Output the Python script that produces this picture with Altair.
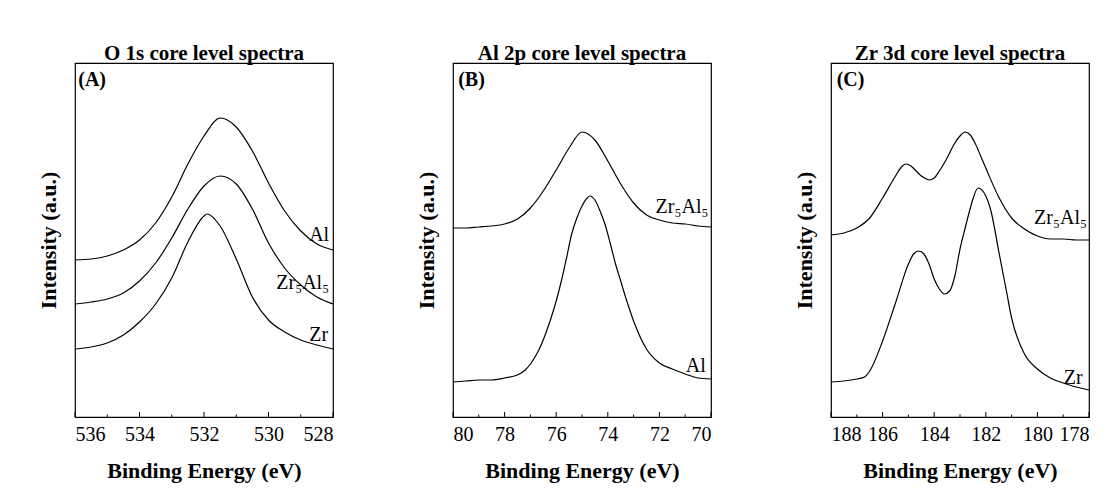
import altair as alt
import pandas as pd

FONT = "Liberation Serif"

# ---------------- Panel A: O 1s ----------------
a_ev = [536, 535.5, 535, 534.5, 534, 533.5, 533, 532.5, 532, 531.5, 531, 530.5, 530, 529.5, 529, 528.5, 528]
a_al = [157, 158, 161, 167, 177, 194, 220, 253, 281, 299, 290, 266, 234, 206, 186, 173, 167]
a_zral = [113, 115, 118, 124, 136, 154, 179, 208, 231, 241, 233, 208, 174, 149, 132, 120, 113]
a_zr_ev = [536, 535.5, 535, 534.5, 534, 533.5, 533, 532.5, 532, 531.9, 531.5, 531, 530.5, 530, 529.5, 529, 528.5, 528]
a_zr = [68, 70, 74, 82, 95, 113, 139, 175, 201, 203, 191, 158, 120, 97, 85, 77, 72, 68]

# ---------------- Panel B: Al 2p ----------------
b_ev = [80, 79.5, 79, 78.5, 78, 77.5, 77, 76.5, 76, 75.5, 75, 74.5, 74, 73.5, 73, 72.5, 72, 71.5, 71, 70.5, 70]
b_zral = [189, 189, 190, 191, 193, 198, 209, 226, 247, 269, 285, 277, 256, 233, 214, 202, 197, 194, 193, 191, 190]
b_al_ev = [80, 79.5, 79, 78.5, 78, 77.5, 77.2, 77, 76.8, 76.6, 76.4, 76.2, 76, 75.8, 75.6, 75.4, 75.2, 75, 74.8,
           74.7, 74.5, 74.3, 74.1, 73.9, 73.7, 73.5, 73.3, 73, 72.5, 72, 71.5, 71, 70.5, 70]
b_al = [35, 36, 37, 37, 39, 42, 47, 53, 61, 71, 84, 99, 116, 136, 159, 183, 199, 211, 219,
        221, 217, 206, 192, 173, 153, 136, 119, 96, 68, 54, 48, 43, 39, 38]

# ---------------- Panel C: Zr 3d ----------------
c_zral_ev = [188, 187.5, 187, 186.5, 186, 185.5, 185.3, 185.1, 184.9, 184.7, 184.5, 184.3, 184.2, 184, 183.8,
             183.5, 183.2, 183, 182.8, 182.6, 182.4, 182.2, 182, 181.5, 181, 180.5, 180, 179.5, 179, 178.5, 178]
c_zral = [182, 184, 189, 199, 219, 241, 249, 253, 251, 246, 241, 238, 237, 239, 246,
          259, 274, 281, 285, 282, 273, 261, 249, 220, 199, 188, 181, 178, 178, 177, 177]
c_zr_ev = [188, 187.5, 187, 186.7, 186.5, 186, 185.5, 185, 184.8, 184.6, 184.4, 184.2, 184, 183.8, 183.6,
           183.4, 183.2, 183, 182.8, 182.6, 182.5, 182.3, 182, 181.8, 181.5, 181.2, 181, 180.5, 180, 179.5,
           179, 178.5, 178]
c_zr = [35, 36, 38, 40, 46, 76, 114, 153, 163, 166, 163, 153, 138, 128, 123,
        126, 141, 168, 189, 209, 218, 229, 221, 206, 166, 126, 99, 63, 48, 39,
        34, 30, 27]

# ---------------- Labels ----------------
titles = ["O 1s core level spectra", "Al 2p core level spectra", "Zr 3d core level spectra"]
letters = ["(A)", "(B)", "(C)"]
letter_pos = [(535.9, 331), (79.8, 331), (187.78, 331)]
a_labels = [("Al", 528.12, 176), ("Zr₅Al₅", 528.12, 128), ("Zr", 528.15, 76)]
b_labels = [("Zr₅Al₅", 70.1, 204), ("Al", 70.2, 45)]
c_labels = [("Zr₅Al₅", 178.08, 193), ("Zr", 178.25, 33)]

domains = [(528, 536), (70, 80), (178, 188)]
major = [[536, 534, 532, 530, 528], [80, 78, 76, 74, 72, 70], [188, 186, 184, 182, 180, 178]]
minor = [[535, 533, 531, 529], [79, 77, 75, 73, 71], [187, 185, 183, 181, 179]]

Y_MAX = 354
MAJOR_LEN = 5
MINOR_LEN = 2.5


def make_panel(idx, series, labels):
    lo, hi = domains[idx]
    xs = alt.Scale(domain=[lo, hi], reverse=True, nice=False, zero=False)
    ys = alt.Scale(domain=[0, Y_MAX], nice=False, zero=False)

    rows = []
    for name, evs, vals in series:
        for e, v in zip(evs, vals):
            rows.append({"ev": e, "inten": v, "series": name})
    df = pd.DataFrame(rows)

    lines = alt.Chart(df).mark_line(color="black", strokeWidth=1.2, interpolate="monotone", clip=True).encode(
        x=alt.X("ev:Q", scale=xs,
                axis=alt.Axis(values=major[idx], title="Binding Energy (eV)", format="d", ticks=False,
                              tickSize=0, domain=False, grid=False, labelPadding=7, titlePadding=16,
                              labelFont=FONT, labelFontSize=20, labelColor="black",
                              titleFont=FONT, titleFontSize=22, titleFontWeight="bold", titleColor="black")),
        y=alt.Y("inten:Q", scale=ys,
                axis=alt.Axis(labels=False, ticks=False, tickSize=0, domain=False, grid=False,
                              title="Intensity (a.u.)", titlePadding=15,
                              titleFont=FONT, titleFontSize=22, titleFontWeight="bold", titleColor="black")),
        detail="series:N",
    )

    ldf = pd.DataFrame([{"ev": x, "inten": y, "txt": t} for t, x, y in labels])
    label_marks = alt.Chart(ldf).mark_text(align="right", baseline="alphabetic", font=FONT, fontSize=20,
                                           color="black").encode(
        x=alt.X("ev:Q", scale=xs), y=alt.Y("inten:Q", scale=ys), text="txt:N")

    lx, ly = letter_pos[idx]
    letdf = pd.DataFrame([{"ev": lx, "inten": ly, "txt": letters[idx]}])
    letter_mark = alt.Chart(letdf).mark_text(align="left", baseline="alphabetic", font=FONT, fontSize=20,
                                             fontWeight="bold", color="black").encode(
        x=alt.X("ev:Q", scale=xs), y=alt.Y("inten:Q", scale=ys), text="txt:N")

    tdf = pd.DataFrame([{"ev": v, "y0": 0, "y1": MAJOR_LEN} for v in major[idx]] +
                       [{"ev": v, "y0": 0, "y1": MINOR_LEN} for v in minor[idx]])
    ticks = alt.Chart(tdf).mark_rule(color="black", strokeWidth=1).encode(
        x=alt.X("ev:Q", scale=xs), y=alt.Y("y0:Q", scale=ys), y2="y1:Q")

    return alt.layer(lines, ticks, label_marks, letter_mark).properties(
        width=258, height=354,
        title=alt.TitleParams(titles[idx], font=FONT, fontSize=21, fontWeight="bold", color="black",
                              anchor="middle", frame="group", baseline="bottom", offset=1, dy=23),
    )


pA = make_panel(0, [("Al", a_ev, a_al), ("Zr5Al5", a_ev, a_zral), ("Zr", a_zr_ev, a_zr)], a_labels)
pB = make_panel(1, [("Zr5Al5", b_ev, b_zral), ("Al", b_al_ev, b_al)], b_labels)
pC = make_panel(2, [("Zr5Al5", c_zral_ev, c_zral), ("Zr", c_zr_ev, c_zr)], c_labels)

chart = alt.hconcat(pA, pB, pC, spacing=120, bounds="flush", background="white",
                    padding={"left": 28, "top": 34, "right": 10, "bottom": 5}).configure_view(
    stroke="black", strokeWidth=1.2
)

chart.save("out.html", embed_options={"renderer": "svg", "actions": False})
